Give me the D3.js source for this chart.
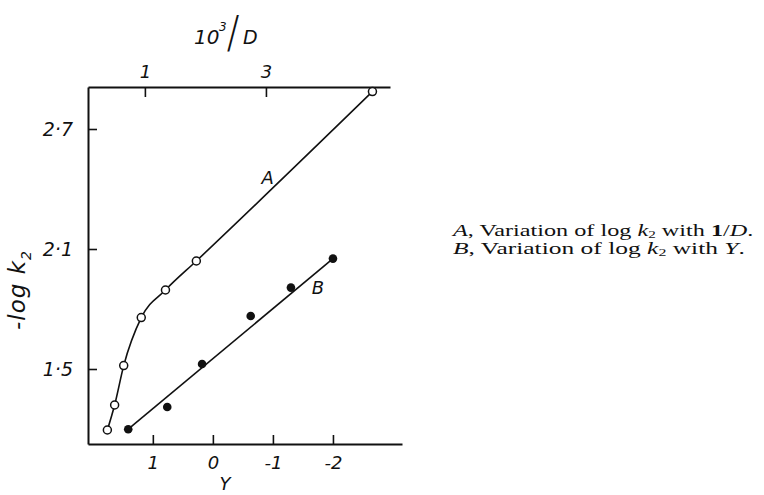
<!DOCTYPE html>
<html lang="en">
<head>
<meta charset="UTF-8">
<title>-log k2 against 1/D and Y</title>
<script src="https://d3js.org/d3.v7.min.js"></script>
<style>
  body { margin: 0; background: #fff; }
  svg { display: block; }
  .tick text, .lab { font-family: "DejaVu Sans", sans-serif; font-style: italic; fill: #111; }
  .legend { font-family: "Liberation Serif", "DejaVu Serif", serif; font-size: 16px; fill: #111; }
</style>
</head>
<body>
<svg width="764" height="495"></svg>
<script>
// curve A: -log k2 against 10^3/D (top scale)
const invD = [0.38, 0.50, 0.65, 0.94, 1.34, 1.85, 4.76];
const logkA = [1.195, 1.32, 1.517, 1.757, 1.895, 2.04, 2.887];
// curve B: -log k2 against Y (bottom scale)
const yParam = [1.41, 0.76, 0.18, -0.63, -1.30, -2.00];
const logkB = [1.199, 1.31, 1.525, 1.765, 1.907, 2.052];

const leftTicks = [1.5, 2.1, 2.7];
const topTicks = [1, 3];
const bottomTicks = [1, 0, -1, -2];

const svg = d3.select("svg");
const ink = "#111";

// scales
const y = d3.scaleLinear().domain([1.125, 2.91]).range([444, 87]);
const xTop = d3.scaleLinear().domain([0.06, 5.05]).range([88, 390]);
const xBot = d3.scaleLinear().domain([2.08, -3.15]).range([88, 402]);

const fmt = d => d.toFixed(1).replace(".", "\u00b7");

function styleAxis(g, size) {
    g.select(".domain").attr("stroke", ink).attr("stroke-width", 2);
    g.selectAll(".tick line").attr("stroke", ink).attr("stroke-width", 1.6);
    g.selectAll(".tick text").attr("font-size", size).attr("font-family", null);
}

// left axis
svg.append("g")
    .attr("transform", "translate(88,0)")
    .call(d3.axisLeft(y).tickValues(leftTicks).tickSizeInner(-9).tickSizeOuter(0)
        .tickPadding(15).tickFormat(fmt))
    .call(styleAxis, 19);

// top axis (10^3/D)
svg.append("g")
    .attr("transform", "translate(0,87)")
    .call(d3.axisTop(xTop).tickValues(topTicks).tickSizeInner(-10).tickSizeOuter(0)
        .tickPadding(9).tickFormat(d3.format("d")))
    .call(styleAxis, 18);

// bottom axis (Y)
svg.append("g")
    .attr("transform", "translate(0,444)")
    .call(d3.axisBottom(xBot).tickValues(bottomTicks).tickSizeInner(-9).tickSizeOuter(0)
        .tickPadding(12).tickFormat(d => d < 0 ? "-" + (-d) : String(d)))
    .call(styleAxis, 18);

// axis titles
const ylab = svg.append("text").attr("class", "lab")
    .attr("transform", "translate(25,290) rotate(-90)")
    .attr("text-anchor", "middle").attr("font-size", 23).attr("letter-spacing", 1);
ylab.append("tspan").text("-log k");
ylab.append("tspan").attr("font-size", 14).attr("dy", 6).text("2");

svg.append("text").attr("class", "lab")
    .attr("x", 225).attr("y", 490).attr("text-anchor", "middle").attr("font-size", 18)
    .text("Y");

svg.append("text").attr("class", "lab").attr("x", 194).attr("y", 44).attr("font-size", 20).text("10");
svg.append("text").attr("class", "lab").attr("x", 219).attr("y", 31).attr("font-size", 12).text("3");
svg.append("text").attr("class", "lab").attr("font-size", 20)
    .attr("transform", "translate(229,48) scale(1.15,2.2)").text("/");
svg.append("text").attr("class", "lab").attr("x", 243).attr("y", 44).attr("font-size", 19).text("D");

// curve A
const ptsA = invD.map((v, i) => [v, logkA[i]]);
svg.append("path")
    .datum(ptsA)
    .attr("fill", "none").attr("stroke", ink).attr("stroke-width", 1.6)
    .attr("d", d3.line().x(d => xTop(d[0])).y(d => y(d[1])).curve(d3.curveMonotoneX));

// line B through the end points
const ptsB = yParam.map((v, i) => [v, logkB[i]]);
svg.append("path")
    .datum([ptsB[0], ptsB[ptsB.length - 1]])
    .attr("fill", "none").attr("stroke", ink).attr("stroke-width", 1.6)
    .attr("d", d3.line().x(d => xBot(d[0])).y(d => y(d[1])));

svg.selectAll(".ptA").data(ptsA).enter().append("circle")
    .attr("cx", d => xTop(d[0])).attr("cy", d => y(d[1])).attr("r", 4)
    .attr("fill", "#fff").attr("stroke", ink).attr("stroke-width", 1.5);

svg.selectAll(".ptB").data(ptsB).enter().append("circle")
    .attr("cx", d => xBot(d[0])).attr("cy", d => y(d[1])).attr("r", 4.3)
    .attr("fill", ink);

// curve labels
svg.append("text").attr("class", "lab").attr("font-size", 18).attr("text-anchor", "middle")
    .attr("x", xTop(3.03)).attr("y", y(2.46) + 7).text("A");
svg.append("text").attr("class", "lab").attr("font-size", 18).attr("text-anchor", "middle")
    .attr("x", xBot(-1.75)).attr("y", y(1.91) + 7).text("B");

// legend (stretched to the width of the printed caption)
const legX = 453;
function legendLine(yPos, letter, tail, width) {
    const t = svg.append("text").attr("class", "legend").attr("x", legX).attr("y", yPos);
    t.append("tspan").attr("font-style", "italic").text(letter);
    t.append("tspan").text(", Variation of log ");
    t.append("tspan").attr("font-style", "italic").text("k");
    t.append("tspan").attr("font-size", 10).attr("dy", 2).text("2");
    t.append("tspan").attr("dy", -2).text(" with ");
    tail(t);
    const w = t.node().getBBox().width;
    const sx = width / w;
    t.attr("transform", `translate(${legX},0) scale(${sx},1) translate(${-legX},0)`);
}
legendLine(236, "A", t => {
    t.append("tspan").attr("font-weight", "bold").text("1");
    t.append("tspan").text("/");
    t.append("tspan").attr("font-style", "italic").text("D");
    t.append("tspan").text(".");
}, 302);
legendLine(254, "B", t => {
    t.append("tspan").attr("font-style", "italic").text(" Y");
    t.append("tspan").text(".");
}, 292);
</script>
</body>
</html>
